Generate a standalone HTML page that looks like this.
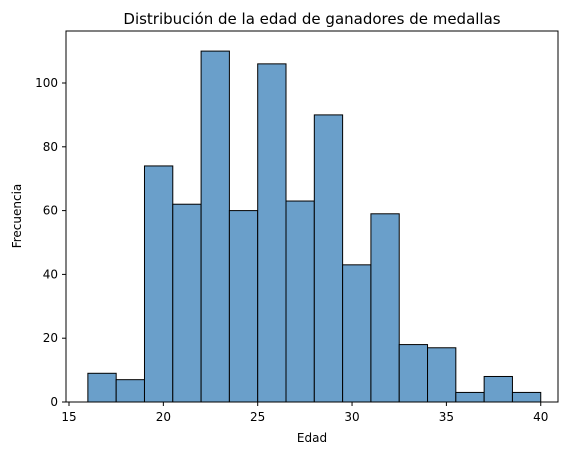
<!DOCTYPE html>
<html><head><meta charset="utf-8"><style>
body{margin:0;background:#fff;font-family:"Liberation Sans","DejaVu Sans",sans-serif}
</style></head><body>
<svg id="chart" width="571" height="455" xmlns="http://www.w3.org/2000/svg" font-family="DejaVu Sans, Liberation Sans, sans-serif">
<text x="312" y="24" text-anchor="middle" font-size="15" fill="#000">Distribución de la edad de ganadores de medallas</text>
<g id="bars"></g>
<g id="xaxis"></g>
<g id="yaxis"></g>
<rect x="66" y="31" width="492" height="371" fill="none" stroke="#000" stroke-width="1"/>
<text x="312" y="442" text-anchor="middle" font-size="12">Edad</text>
<text transform="translate(21,216) rotate(-90)" text-anchor="middle" font-size="12">Frecuencia</text>
</svg>
<script>
const binStart = 16;
const binWidth = 1.5;
const counts = [9,7,74,62,110,60,106,63,90,43,59,18,17,3,8,3];
const xTicks = [15,20,25,30,35,40];
const yTicks = [0,20,40,60,80,100];
const NS = "http://www.w3.org/2000/svg";
function xs(v){return 69 + (v-15)*18.87;}
function ys(v){return 402 - v*3.19;}
const bars = document.getElementById('bars');
counts.forEach((c,i)=>{
  const x0 = xs(binStart+i*binWidth), x1 = xs(binStart+(i+1)*binWidth);
  const r = document.createElementNS(NS,'rect');
  r.setAttribute('x',x0); r.setAttribute('y',ys(c));
  r.setAttribute('width',x1-x0); r.setAttribute('height',ys(0)-ys(c));
  r.setAttribute('fill','#6a9fca'); r.setAttribute('stroke','#000'); r.setAttribute('stroke-width','1');
  
  
  bars.appendChild(r);
});
const xa = document.getElementById('xaxis');
xTicks.forEach(t=>{
  const x = xs(t);
  const l = document.createElementNS(NS,'line');
  l.setAttribute('x1',x); l.setAttribute('x2',x); l.setAttribute('y1',402); l.setAttribute('y2',406); l.setAttribute('stroke','#000');
  
  
  xa.appendChild(l);
  const tx = document.createElementNS(NS,'text');
  tx.setAttribute('x',x); tx.setAttribute('y',421); tx.setAttribute('text-anchor','middle'); tx.setAttribute('font-size','12');
  tx.textContent = t;
  
  
  xa.appendChild(tx);
});
const ya = document.getElementById('yaxis');
yTicks.forEach(t=>{
  const y = ys(t);
  const l = document.createElementNS(NS,'line');
  l.setAttribute('x1',62); l.setAttribute('x2',66); l.setAttribute('y1',y); l.setAttribute('y2',y); l.setAttribute('stroke','#000');
  
  
  ya.appendChild(l);
  const tx = document.createElementNS(NS,'text');
  tx.setAttribute('x',58); tx.setAttribute('y',y+4); tx.setAttribute('text-anchor','end'); tx.setAttribute('font-size','12');
  tx.textContent = t;
  
  
  ya.appendChild(tx);
});
</script>
</body></html>
